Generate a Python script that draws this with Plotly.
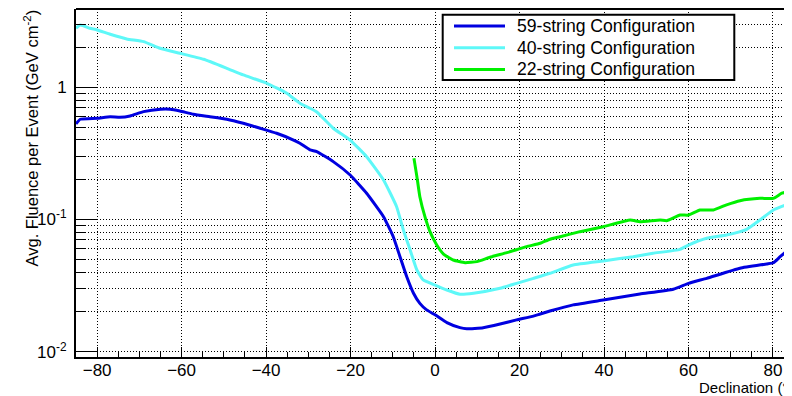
import plotly.graph_objects as go

# ---- data ----
dec_59 = [-85, -84, -80, -76.9, -74.6, -72.2, -69, -65, -62.7, -60.4, -57.2, -53.3, -49.3,
          -45.4, -41.4, -37.5, -33.5, -32, -29.6, -28, -24.1, -20.1, -16.2, -12.2, -9.9,
          -8.3, -6.7, -5.1, -3.6, -2.0, 0, 2.8, 5.9, 7.5, 11.4, 15.4, 19.3, 23.3, 24.9,
          27.2, 32.7, 39.8, 48.5, 56.4, 60, 64.3, 72.2, 78.5, 80.1, 81.7, 83.2, 84.6]
flu_59 = [0.528, 0.573, 0.583, 0.599, 0.593, 0.607, 0.654, 0.682, 0.682, 0.662, 0.625, 0.599, 0.573,
          0.534, 0.490, 0.449, 0.399, 0.377, 0.336, 0.326, 0.274, 0.217, 0.158, 0.105, 0.0741,
          0.0523, 0.0369, 0.0277, 0.0232, 0.0207, 0.0190, 0.0166, 0.0152, 0.0149, 0.0152, 0.0162, 0.0174, 0.0186, 0.0193,
          0.0203, 0.0226, 0.0246, 0.0273, 0.0297, 0.0329, 0.0359, 0.0428, 0.0461, 0.0471, 0.0523, 0.0571, 0.0575]

dec_40 = [-85, -84, -81.7, -80, -76.9, -73, -69, -65.1, -60.4, -54.8, -49.3, -45.4, -39.8,
          -35.1, -32, -29.6, -28, -24.1, -20.1, -16.2, -12.2, -9.1, -7.5, -5.9, -4.3, -2.8,
          0, 2.8, 5.9, 9.1, 15.4, 19.3, 23.3, 27.2, 32.7, 39.8, 46.9, 51.6, 58, 60, 64.3,
          69, 73.8, 76.9, 80.1, 83.2, 84.6]
flu_40 = [2.795, 2.96, 2.795, 2.713, 2.518, 2.320, 2.213, 1.972, 1.808, 1.628, 1.392, 1.239, 1.072,
          0.901, 0.757, 0.694, 0.650, 0.490, 0.399, 0.2985, 0.199, 0.125, 0.0833, 0.0588, 0.0415, 0.0349,
          0.0319, 0.0293, 0.0272, 0.0277, 0.0302, 0.0329, 0.0359, 0.0392, 0.0453, 0.0486, 0.0523, 0.0555, 0.0595, 0.0641, 0.0721,
          0.0764, 0.0843, 0.0991, 0.118, 0.129, 0.129]

dec_22 = [-5.0, -4.3, -3.6, -2.4, -1.2, 0.4, 2.0, 4.3, 7.1, 9.9, 13.0, 17.0, 21.7, 24.9,
          27.2, 29.6, 34.3, 39.8, 46.2, 48.5, 53.3, 54.8, 58, 60, 62.7, 65.9, 69, 72.2,
          76.9, 80.1, 82.1, 84.6]
flu_22 = [0.290, 0.211, 0.1487, 0.105, 0.0809, 0.0641, 0.0548, 0.0494, 0.0471, 0.0480, 0.0518, 0.0561, 0.0623, 0.0661,
          0.0709, 0.0741, 0.0809, 0.0882, 0.0991, 0.0962, 0.0991, 0.098, 0.108, 0.108, 0.118, 0.118, 0.129, 0.1388,
          0.1446, 0.1446, 0.158, 0.165]

series_names = ["59-string Configuration", "40-string Configuration", "22-string Configuration"]
x_ticks = [-80, -60, -40, -20, 0, 20, 40, 60, 80]
y_major = [0.01, 0.1, 1]
y_major_text = ["10<sup>-2</sup>", "10<sup>-1</sup>", "1"]
y_minor = [0.02, 0.03, 0.04, 0.05, 0.06, 0.07, 0.08, 0.09,
           0.2, 0.3, 0.4, 0.5, 0.6, 0.7, 0.8, 0.9, 2, 3]

FONT = "Liberation Sans, Arial, Helvetica, sans-serif"
colors = ["#0000e0", "#5ef8f8", "#00f000"]

fig = go.Figure()
for xs, ys, name, c in [(dec_59, flu_59, series_names[0], colors[0]),
                        (dec_40, flu_40, series_names[1], colors[1]),
                        (dec_22, flu_22, series_names[2], colors[2])]:
    fig.add_trace(go.Scatter(x=xs, y=ys, mode="lines", name=name, showlegend=False,
                             line=dict(color=c, width=3, shape="spline", smoothing=0.4)))

# page has an 8px body margin: the figure starts at page pixel (8, 8)
OFF = 8
W, H = 792 - OFF, 396 - OFF
L, R, T, B = 76 - OFF, 0, 9 - OFF, 39
PW, PH = W - L - R, H - T - B


def px(xp):   # page pixel x -> paper x
    return (xp - 76) / PW


def py(yp):   # page pixel y -> paper y
    return (357 - yp) / PH


fig.update_layout(
    width=W, height=H,
    margin=dict(l=L, r=R, t=T, b=B, autoexpand=False),
    paper_bgcolor="white", plot_bgcolor="white",
    font=dict(family=FONT, size=17, color="black"),
    showlegend=False,
    xaxis=dict(range=[-85, 84.5], showline=True, linecolor="black", linewidth=2,
               tickmode="array", tickvals=x_ticks, ticks="inside", ticklen=10,
               tickcolor="black", tickwidth=1, zeroline=False,
               showgrid=True, gridcolor="black", gridwidth=1, griddash="1px,2px",
               minor=dict(tickmode="linear", tick0=0, dtick=5, ticks="inside",
                          ticklen=5, tickcolor="black", showgrid=False),
               tickfont=dict(family=FONT, size=17), ticklabelstandoff=-3),
    yaxis=dict(type="log", range=[-2.040, 0.592], showline=True, linecolor="black",
               linewidth=2, tickmode="array", tickvals=y_major, ticktext=y_major_text,
               ticks="inside", ticklen=21, tickcolor="black", tickwidth=1,
               showgrid=True, gridcolor="black", gridwidth=1, griddash="1px,2px",
               minor=dict(tickvals=y_minor, ticks="inside", ticklen=9,
                          tickcolor="black", showgrid=True, gridcolor="black",
                          gridwidth=1, griddash="1px,2px"),
               tickfont=dict(family=FONT, size=17), ticklabelstandoff=4),
)

# top frame line
fig.add_shape(type="line", xref="paper", yref="paper", x0=0, x1=1, y0=1, y1=1,
              line=dict(color="black", width=2))

# legend box (drawn as in the reference)
fig.add_shape(type="rect", xref="paper", yref="paper",
              x0=px(442.7), x1=px(734.3), y0=py(80), y1=py(14.7),
              line=dict(color="black", width=2), fillcolor="white", layer="above")
for i, (name, c) in enumerate(zip(series_names, colors)):
    yrow = py(26 + i * 21.7)
    fig.add_shape(type="line", xref="paper", yref="paper",
                  x0=px(454), x1=px(505), y0=yrow, y1=yrow,
                  line=dict(color=c, width=3), layer="above")
    fig.add_annotation(text=name, xref="paper", yref="paper", x=px(515), y=yrow,
                       xanchor="left", yanchor="middle", showarrow=False,
                       font=dict(family=FONT, size=17.6, color="black"))

# axis titles
fig.add_annotation(text="Avg. Fluence per Event (GeV cm<sup>-2</sup>)",
                   xref="paper", yref="paper", x=px(31), y=py(138.5),
                   xanchor="center", yanchor="middle", textangle=-90, showarrow=False,
                   font=dict(family=FONT, size=16.5, color="black"))
fig.add_annotation(text="Declination (°)", xref="paper", yref="paper",
                   x=px(795), y=py(387), xanchor="right", yanchor="middle",
                   showarrow=False, font=dict(family=FONT, size=15, color="black"))

fig.write_html("out.html")
